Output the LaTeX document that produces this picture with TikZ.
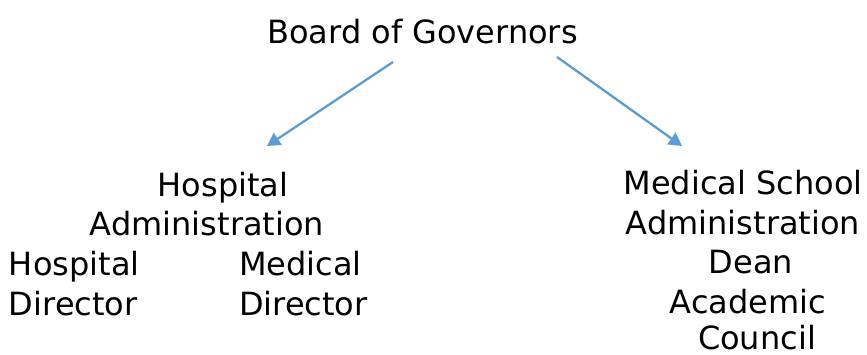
\documentclass[tikz,border=0pt]{standalone}
\usepackage{fontspec}
\setmainfont{DejaVu Sans}
\usetikzlibrary{arrows.meta}
\definecolor{arrowblue}{HTML}{5B9BD5}
\tikzset{
  lbl/.style={anchor=base, inner sep=0pt, outer sep=0pt, font=\fontsize{32}{40}\selectfont},
  conn/.style={draw=arrowblue, line width=2.3pt, -{Triangle[length=13pt,width=14pt]}, arrowblue}
}
\begin{document}
\begin{tikzpicture}[x=1pt,y=-1pt]
\useasboundingbox[fill=white] (0,0) rectangle (867,355);
% top
\node[lbl] (board) at (422.5,44) {Board of Governors};
% left group
\node[lbl] (hosp) at (223,196.5) {Hospital};
\node[lbl] (hadm) at (207,236) {Administration};
\node[lbl,anchor=base west] (hdir1) at (9,276) {Hospital};
\node[lbl,anchor=base west] (hdir2) at (9,315.5) {Director};
\node[lbl,anchor=base west] (mdir1) at (239,276) {Medical};
\node[lbl,anchor=base west] (mdir2) at (239,315.5) {Director};
% right group
\node[lbl] (msch) at (743,195) {Medical School};
\node[lbl] (madm) at (743,234.5) {Administration};
\node[lbl] (dean) at (751,274) {Dean};
\node[lbl] (acad) at (748,313) {Academic};
\node[lbl] (coun) at (757,349) {Council};
% connectors
\coordinate (ls) at (393,62);
\coordinate (le) at (267,146);
\coordinate (rs) at (557,57);
\coordinate (re) at (682,146);
\draw[conn] (ls) -- (le);
\draw[conn] (rs) -- (re);
\end{tikzpicture}
\end{document}
